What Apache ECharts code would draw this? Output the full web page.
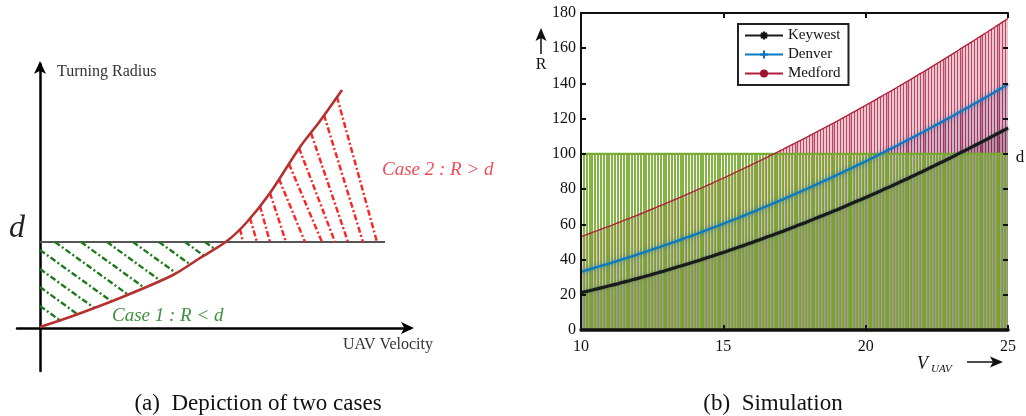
<!DOCTYPE html>
<html><head><meta charset="utf-8">
<script src="https://cdn.jsdelivr.net/npm/echarts@6/dist/echarts.min.js"></script>
<style>html,body{margin:0;padding:0;background:#fff}#c{width:1026px;height:416px}</style>
</head><body><div id="c"></div>
<script>
// ---------- (b) Simulation data: turning radius R vs UAV velocity ----------
const vStart = 10, vStep = 0.1;
const keywest = [
21.2,21.6,21.9,22.3,22.7,23.1,23.5,23.9,24.3,24.7,
25.1,25.5,25.9,26.3,26.8,27.2,27.6,28.0,28.5,28.9,
29.3,29.8,30.2,30.7,31.1,31.6,32.1,32.5,33.0,33.4,
33.9,34.4,34.9,35.4,35.9,36.3,36.8,37.3,37.8,38.3,
38.8,39.3,39.8,40.4,40.9,41.4,41.9,42.5,43.0,43.5,
44.0,44.6,45.2,45.7,46.3,46.8,47.4,47.9,48.5,49.1,
49.6,50.2,50.8,51.4,52.0,52.6,53.2,53.7,54.3,54.9,
55.5,56.1,56.8,57.4,58.0,58.6,59.3,59.9,60.5,61.1,
61.8,62.4,63.1,63.7,64.4,65.0,65.7,66.3,67.0,67.7,
68.3,69.0,69.7,70.4,71.1,71.8,72.5,73.2,73.8,74.5,
75.2,75.9,76.7,77.4,78.1,78.8,79.6,80.3,81.0,81.7,
82.5,83.2,84.0,84.7,85.5,86.2,87.0,87.7,88.5,89.3,
90.0,90.8,91.6,92.4,93.2,94.0,94.8,95.5,96.3,97.1,
97.9,98.7,99.6,100.4,101.2,102.0,102.8,103.7,104.5,105.3,
106.1,107.0,107.8,108.7,109.6,110.4,111.3,112.1,113.0,113.8,
114.7];
const denver = [
33.0,33.5,34.0,34.4,34.9,35.4,35.9,36.4,36.8,37.3,
37.8,38.3,38.8,39.4,39.9,40.4,40.9,41.4,41.9,42.4,
43.0,43.5,44.0,44.6,45.1,45.7,46.2,46.8,47.3,47.9,
48.4,49.0,49.6,50.1,50.7,51.3,51.9,52.5,53.0,53.6,
54.2,54.8,55.4,56.0,56.6,57.3,57.9,58.5,59.1,59.7,
60.3,61.0,61.6,62.3,62.9,63.5,64.2,64.8,65.5,66.1,
66.8,67.4,68.1,68.8,69.5,70.2,70.8,71.5,72.2,72.9,
73.5,74.3,75.0,75.7,76.4,77.1,77.8,78.5,79.2,79.9,
80.6,81.4,82.1,82.9,83.6,84.4,85.1,85.8,86.6,87.3,
88.1,88.8,89.6,90.4,91.2,91.9,92.7,93.5,94.3,95.0,
95.8,96.6,97.4,98.2,99.0,99.9,100.7,101.5,102.3,103.1,
103.9,104.7,105.6,106.4,107.3,108.1,108.9,109.8,110.6,111.5,
112.3,113.2,114.0,114.9,115.8,116.7,117.5,118.4,119.3,120.2,
121.0,121.9,122.9,123.8,124.7,125.6,126.5,127.4,128.3,129.2,
130.1,131.0,132.0,132.9,133.9,134.8,135.7,136.7,137.6,138.6,
139.5];
const medford = [
53.0,53.6,54.2,54.8,55.4,56.0,56.6,57.2,57.8,58.4,
59.0,59.6,60.3,60.9,61.5,62.2,62.8,63.4,64.1,64.7,
65.3,66.0,66.7,67.3,68.0,68.7,69.3,70.0,70.7,71.3,
72.0,72.7,73.4,74.1,74.8,75.5,76.2,76.9,77.6,78.3,
79.0,79.7,80.4,81.1,81.9,82.6,83.3,84.1,84.8,85.5,
86.2,87.0,87.8,88.5,89.3,90.1,90.8,91.6,92.3,93.1,
93.9,94.7,95.4,96.2,97.0,97.8,98.6,99.4,100.2,101.0,
101.8,102.6,103.5,104.3,105.1,105.9,106.8,107.6,108.4,109.2,
110.1,110.9,111.8,112.6,113.5,114.4,115.2,116.1,116.9,117.8,
118.6,119.5,120.4,121.3,122.2,123.1,124.0,124.9,125.8,126.7,
127.5,128.5,129.4,130.3,131.2,132.2,133.1,134.0,134.9,135.8,
136.8,137.7,138.7,139.6,140.6,141.5,142.5,143.5,144.4,145.4,
146.3,147.3,148.3,149.3,150.3,151.3,152.2,153.2,154.2,155.2,
156.2,157.2,158.2,159.3,160.3,161.3,162.3,163.3,164.3,165.4,
166.4,167.4,168.5,169.5,170.6,171.6,172.7,173.7,174.8,175.8,
176.9];
const dLevel = 100;
const seriesNames = ['Keywest', 'Denver', 'Medford'];
const xs = keywest.map((_, i) => +(vStart + i * vStep).toFixed(1));

// ---------- (a) Depiction schematic (units relative to the origin) ----------
const curvePts = [[0,1],[30,11],[80,30],[133,53],[160,70],[187,87],[207,106],[230,135],[260,181],[280,207],[302,238]];
const dLinePts = [[0,86],[345,86]];
const greenHatch = [
  [[0,22],[20,7.6]], [[0,41],[37.5,13.7]], [[0,59],[54,20.2]], [[0,78],[71,27]],
  [[15,86],[88,33.4]], [[41,86],[104,40.5]], [[67,86],[120,47.6]], [[93,86],[136,55]],
  [[119,86],[150,63.7]], [[145,86],[164,72.3]], [[165,86],[174.5,79.2]]
];
const redHatch = [
  [[297,231],[337,86]], [[284,213],[323,86]], [[271,195],[308,86]], [[259,180],[295,86]],
  [[249,164],[282,86]], [[239,149],[265,86]], [[230,135],[246,86]], [[220,122],[230,86]],
  [[210,110],[217,86]], [[200,99],[203,86]]
];

const SERIF = '"Liberation Serif", "DejaVu Serif", serif';

function stemSeries(name, vals, color, width, opacity, z, snapHalf) {
  return {
    type: 'custom', name, xAxisIndex: 1, yAxisIndex: 1, z, silent: true, clip: true,
    data: vals.map((v, i) => [xs[i], v]),
    renderItem(params, api) {
      const p0 = api.coord([api.value(0), 0]);
      const p1 = api.coord([api.value(0), api.value(1)]);
      const x = Math.round(p0[0]) + (snapHalf ? 0.5 : 0);
      return { type: 'line', shape: { x1: x, y1: p0[1], x2: x, y2: p1[1] },
        style: { stroke: color, lineWidth: width, opacity } };
    }
  };
}

const asterisk = 'path://M5,0L5,10M0,5L10,5M1.5,1.5L8.5,8.5M8.5,1.5L1.5,8.5';
const plus = 'path://M5,0L5,10M0,5L10,5';

const chart = echarts.init(document.getElementById('c'), null, { renderer: 'canvas' });
const hiddenAxis = { axisLabel: { show: false }, axisTick: { show: false }, splitLine: { show: false } };

chart.setOption({
  animation: false,
  backgroundColor: '#fff',
  grid: [
    { left: 17, top: 64, width: 393, height: 307 },
    { left: 581, top: 13, width: 427, height: 317 }
  ],
  xAxis: [
    Object.assign({ gridIndex: 0, type: 'value', min: -23, max: 370,
      axisLine: { show: true, onZero: true, symbol: ['none', 'arrow'], symbolSize: [9, 13], symbolOffset: [0, 4],
        lineStyle: { color: '#000', width: 2.5 } } }, hiddenAxis),
    { gridIndex: 1, type: 'value', min: 10, max: 25, interval: 5, z: 10,
      axisLine: { show: true, onZero: false, lineStyle: { color: '#111', width: 3.5 } },
      axisTick: { show: true, inside: true, length: 5, lineStyle: { color: '#111', width: 2 } },
      axisLabel: { show: true, margin: 9, color: '#111', fontFamily: SERIF, fontSize: 16 },
      splitLine: { show: false } },
    { gridIndex: 1, type: 'value', min: 10, max: 25, interval: 5, position: 'top', z: 10,
      axisLine: { show: true, onZero: false, lineStyle: { color: '#111', width: 2 } },
      axisTick: { show: true, inside: true, length: 5, lineStyle: { color: '#111', width: 2 } },
      axisLabel: { show: false }, splitLine: { show: false } }
  ],
  yAxis: [
    Object.assign({ gridIndex: 0, type: 'value', min: -43, max: 264,
      axisLine: { show: true, onZero: true, symbol: ['none', 'arrow'], symbolSize: [9, 13], symbolOffset: [0, 3],
        lineStyle: { color: '#000', width: 2.5 } } }, hiddenAxis),
    { gridIndex: 1, type: 'value', min: 0, max: 180, interval: 20, z: 10,
      axisLine: { show: true, onZero: false, lineStyle: { color: '#111', width: 2 } },
      axisTick: { show: true, inside: true, length: 5, lineStyle: { color: '#111', width: 2 } },
      axisLabel: { show: true, margin: 5, color: '#111', fontFamily: SERIF, fontSize: 16 },
      splitLine: { show: false } },
    { gridIndex: 1, type: 'value', min: 0, max: 180, interval: 20, position: 'right', z: 10,
      axisLine: { show: false, onZero: false },
      axisTick: { show: true, inside: true, length: 5, lineStyle: { color: '#111', width: 2 } },
      axisLabel: { show: false }, splitLine: { show: false } }
  ],
  legend: {
    data: seriesNames, orient: 'vertical', left: 738, top: 24,
    itemWidth: 38, itemHeight: 10, itemGap: 4, padding: [4, 8, 4, 6],
    borderColor: '#222', borderWidth: 2, backgroundColor: '#fff', z: 30,
    textStyle: { fontFamily: SERIF, fontSize: 15, color: '#111' }
  },
  series: [
    // ---- (a) schematic ----
    { type: 'line', name: 'd-line', xAxisIndex: 0, yAxisIndex: 0, data: dLinePts, symbol: 'none',
      lineStyle: { color: '#555', width: 2.2 }, z: 2, silent: true },
    { type: 'lines', name: 'case1', coordinateSystem: 'cartesian2d', xAxisIndex: 0, yAxisIndex: 0,
      data: greenHatch.map(s => ({ coords: s })), silent: true, z: 3,
      lineStyle: { color: '#1c7a1c', width: 2.4, type: [6, 2.5, 2, 2.5], opacity: 1, curveness: 0 } },
    { type: 'lines', name: 'case2', coordinateSystem: 'cartesian2d', xAxisIndex: 0, yAxisIndex: 0,
      data: redHatch.map(s => ({ coords: s })), silent: true, z: 3,
      lineStyle: { color: '#ff2222', width: 2.4, type: [6, 2.5, 2, 2.5], opacity: 1, curveness: 0 } },
    { type: 'line', name: 'curve', xAxisIndex: 0, yAxisIndex: 0, data: curvePts, symbol: 'none', smooth: 0.3,
      lineStyle: { color: '#b5302f', width: 2.6 }, z: 4, silent: true },
    // ---- (b) stems ----
    stemSeries('Keywest stem', keywest, '#1a1a1a', 1.6, 0.7, 2, true),
    stemSeries('Denver stem', denver, '#3574b4', 1.6, 0.65, 2, true),
    stemSeries('Medford stem', medford, '#b0163c', 1.6, 0.8, 2, true),
    stemSeries('d stem', xs.map(() => dLevel), '#77AC30', 2, 0.9, 3, false),
    { type: 'line', name: 'd level', xAxisIndex: 1, yAxisIndex: 1, data: xs.map(x => [x, dLevel]), symbol: 'none',
      lineStyle: { color: '#77AC30', width: 2.2 }, z: 4, silent: true },
    // ---- (b) curves ----
    { type: 'line', name: 'Keywest', xAxisIndex: 1, yAxisIndex: 1, data: keywest.map((v, i) => [xs[i], v]),
      symbol: asterisk, symbolSize: 7, showSymbol: false, itemStyle: { color: '#111', borderColor: '#111', borderWidth: 1.2 },
      lineStyle: { color: '#1a1a1a', width: 3.2, shadowBlur: 3, shadowColor: 'rgba(60,120,110,0.6)' }, z: 6, silent: true },
    { type: 'line', name: 'Denver', xAxisIndex: 1, yAxisIndex: 1, data: denver.map((v, i) => [xs[i], v]),
      symbol: plus, symbolSize: 7, showSymbol: false, itemStyle: { color: '#0072BD', borderColor: '#0072BD', borderWidth: 1.5 },
      lineStyle: { color: '#0a78c2', width: 2.2, shadowBlur: 4, shadowColor: 'rgba(0,114,189,0.7)' }, z: 6, silent: true },
    { type: 'line', name: 'Medford', xAxisIndex: 1, yAxisIndex: 1, data: medford.map((v, i) => [xs[i], v]),
      symbol: 'circle', symbolSize: 2, showSymbol: false, itemStyle: { color: '#A2142F' },
      lineStyle: { color: '#b0203c', width: 1.4 }, z: 6, silent: true }
  ],
  graphic: { elements: [
    // (a) labels
    { type: 'text', x: 57, y: 72, silent: true, style: { text: 'Turning Radius', font: '16px ' + SERIF, fill: '#333', align: 'left', verticalAlign: 'middle', textAlign: 'left', textVerticalAlign: 'middle' } },
    { type: 'text', x: 343, y: 345, silent: true, style: { text: 'UAV Velocity', font: '16px ' + SERIF, fill: '#333', align: 'left', verticalAlign: 'middle', textAlign: 'left', textVerticalAlign: 'middle' } },
    { type: 'text', x: 17, y: 229, silent: true, style: { text: 'd', font: 'italic 32px ' + SERIF, fill: '#222', align: 'center', verticalAlign: 'middle', textAlign: 'center', textVerticalAlign: 'middle' } },
    { type: 'text', x: 382, y: 170, silent: true, style: { text: 'Case 2 : R > d', font: 'italic 19px ' + SERIF, fill: '#ee4d57', align: 'left', verticalAlign: 'middle', textAlign: 'left', textVerticalAlign: 'middle' } },
    { type: 'text', x: 112, y: 316, silent: true, style: { text: 'Case 1 : R < d', font: 'italic 19px ' + SERIF, fill: '#3d8f3d', align: 'left', verticalAlign: 'middle', textAlign: 'left', textVerticalAlign: 'middle' } },
    // (b) labels
    { type: 'line', silent: true, shape: { x1: 541, y1: 54, x2: 541, y2: 36 }, style: { stroke: '#111', lineWidth: 1.5 } },
    { type: 'polygon', silent: true, shape: { points: [[541, 28], [535.5, 41], [541, 38], [546.5, 41]] }, style: { fill: '#111' } },
    { type: 'text', x: 541, y: 65, silent: true, style: { text: 'R', font: '16px ' + SERIF, fill: '#111', align: 'center', verticalAlign: 'middle', textAlign: 'center', textVerticalAlign: 'middle' } },
    { type: 'text', x: 1020, y: 158, silent: true, style: { text: 'd', font: '17px ' + SERIF, fill: '#111', align: 'center', verticalAlign: 'middle', textAlign: 'center', textVerticalAlign: 'middle' } },
    { type: 'text', x: 917, y: 364, silent: true, style: { text: 'V', font: 'italic 18px ' + SERIF, fill: '#111', align: 'left', verticalAlign: 'middle', textAlign: 'left', textVerticalAlign: 'middle' } },
    { type: 'text', x: 931, y: 369, silent: true, style: { text: 'UAV', font: 'italic 11px ' + SERIF, fill: '#111', align: 'left', verticalAlign: 'middle', textAlign: 'left', textVerticalAlign: 'middle' } },
    { type: 'line', silent: true, shape: { x1: 967, y1: 362, x2: 996, y2: 362 }, style: { stroke: '#111', lineWidth: 1.5 } },
    { type: 'polygon', silent: true, shape: { points: [[1003, 362], [990, 356.5], [993, 362], [990, 367.5]] }, style: { fill: '#111' } },
    // captions
    { type: 'text', x: 258, y: 404, silent: true, style: { text: '(a)  Depiction of two cases', font: '23px ' + SERIF, fill: '#111', align: 'center', verticalAlign: 'middle', textAlign: 'center', textVerticalAlign: 'middle' } },
    { type: 'text', x: 773, y: 404, silent: true, style: { text: '(b)  Simulation', font: '23px ' + SERIF, fill: '#111', align: 'center', verticalAlign: 'middle', textAlign: 'center', textVerticalAlign: 'middle' } }
  ] }
});
</script>
</body></html>
